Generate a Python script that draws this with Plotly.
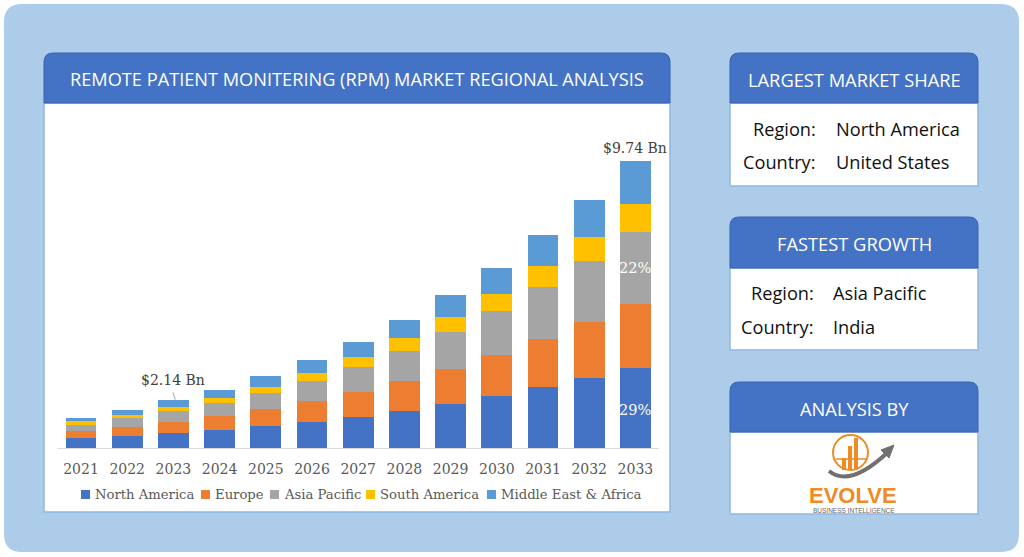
import plotly.graph_objects as go

# Data (USD Bn)
YEARS = ["2021", "2022", "2023", "2024", "2025", "2026", "2027",
         "2028", "2029", "2030", "2031", "2032", "2033"]
NORTH_AMERICA = [0.33, 0.40, 0.50, 0.62, 0.74, 0.88, 1.06, 1.27, 1.51, 1.77, 2.06, 2.39, 2.72]
EUROPE = [0.25, 0.32, 0.38, 0.45, 0.60, 0.71, 0.85, 1.01, 1.18, 1.39, 1.63, 1.87, 2.15]
ASIA_PACIFIC = [0.20, 0.29, 0.36, 0.46, 0.54, 0.67, 0.84, 1.02, 1.26, 1.48, 1.78, 2.09, 2.46]
SOUTH_AMERICA = [0.12, 0.11, 0.14, 0.16, 0.20, 0.30, 0.35, 0.42, 0.49, 0.59, 0.69, 0.81, 0.96]
MEA = [0.12, 0.18, 0.24, 0.29, 0.36, 0.42, 0.49, 0.62, 0.74, 0.89, 1.06, 1.27, 1.44]

SERIES = [
    ("North America", NORTH_AMERICA, "#4472C4"),
    ("Europe", EUROPE, "#ED7D31"),
    ("Asia Pacific", ASIA_PACIFIC, "#A5A5A5"),
    ("South America", SOUTH_AMERICA, "#FFC000"),
    ("Middle East & Africa", MEA, "#5B9BD5"),
]

VALUE_LABELS = {"2023": "$2.14 Bn", "2033": "$9.74 Bn"}
SHARE_LABELS = [("2033", "Asia Pacific", "22%"), ("2033", "North America", "29%")]

W, H = 1024, 557
HEADER_BLUE = "#4472C4"
PANEL_BG = "#ADCCEA"
BORDER = "#8FB8E2"
SERIF = "DejaVu Serif"
SANS = "Open Sans"


def px(x):
    return x / W


def py(y):
    return 1 - y / H


def rounded_path(x0, y0, x1, y1, r, top_only=False):
    rb = 0 if top_only else r
    pts = [
        f"M{px(x0 + r)},{py(y0)}",
        f"L{px(x1 - r)},{py(y0)}",
        f"Q{px(x1)},{py(y0)} {px(x1)},{py(y0 + r)}",
        f"L{px(x1)},{py(y1 - rb)}",
        f"Q{px(x1)},{py(y1)} {px(x1 - rb)},{py(y1)}",
        f"L{px(x0 + rb)},{py(y1)}",
        f"Q{px(x0)},{py(y1)} {px(x0)},{py(y1 - rb)}",
        f"L{px(x0)},{py(y0 + r)}",
        f"Q{px(x0)},{py(y0)} {px(x0 + r)},{py(y0)}",
        "Z",
    ]
    return " ".join(pts)


fig = go.Figure()

for name, vals, color in SERIES:
    fig.add_trace(go.Bar(
        name=name,
        x=YEARS,
        y=vals,
        marker=dict(color=color, line=dict(width=0)),
        hovertemplate="<b>%{x}</b><br>" + name + ": %{y:.2f} Bn<extra></extra>",
    ))

shapes = []
annotations = []

# outer light-blue card
shapes.append(dict(type="path", path=rounded_path(4, 4, 1019, 552, 18),
                   xref="paper", yref="paper", fillcolor=PANEL_BG,
                   line=dict(width=0), layer="below"))


def panel(x0, y0, y_head, x1, y1, title, size=18.3):
    shapes.append(dict(type="rect", xref="paper", yref="paper",
                       x0=px(x0), x1=px(x1), y0=py(y1), y1=py(y_head),
                       fillcolor="white", line=dict(color=BORDER, width=1.5),
                       layer="below"))
    shapes.append(dict(type="path", path=rounded_path(x0, y0, x1, y_head, 9, top_only=True),
                       xref="paper", yref="paper", fillcolor=HEADER_BLUE,
                       line=dict(color="#3B63AD", width=1), layer="below"))
    annotations.append(dict(text=title, xref="paper", yref="paper",
                            x=px((x0 + x1) / 2), y=py((y0 + y_head) / 2 + 1),
                            showarrow=False, xanchor="center", yanchor="middle",
                            font=dict(family=SANS, size=size, color="white")))


panel(44, 53, 103, 670, 512, "REMOTE PATIENT MONITERING (RPM) MARKET REGIONAL ANALYSIS", 18.2)
panel(730, 53, 103, 978, 186, "LARGEST MARKET SHARE")
panel(730, 217, 268, 978, 350, "FASTEST GROWTH")
panel(730, 382, 432, 978, 514, "ANALYSIS BY")


def info_row(y, label, value, xl, xv):
    annotations.append(dict(text=label, xref="paper", yref="paper", x=px(xl), y=py(y),
                            showarrow=False, xanchor="right", yanchor="middle",
                            font=dict(family=SANS, size=18.2, color="#111111")))
    annotations.append(dict(text=value, xref="paper", yref="paper", x=px(xv), y=py(y),
                            showarrow=False, xanchor="left", yanchor="middle",
                            font=dict(family=SANS, size=18.2, color="#111111")))


info_row(129, "Region:", "North America", 818, 834)
info_row(162, "Country:", "United States", 818, 834)
info_row(293, "Region:", "Asia Pacific", 816, 831)
info_row(327, "Country:", "India", 816, 831)

# logo (approximation)
shapes.append(dict(type="circle", xref="paper", yref="paper",
                   x0=px(833), x1=px(868), y0=py(470), y1=py(435),
                   line=dict(color="#F08A24", width=2), layer="above"))
for bx0, bx1, btop in [(842, 846, 458), (848, 852, 446), (854, 858, 438)]:
    shapes.append(dict(type="rect", xref="paper", yref="paper",
                       x0=px(bx0), x1=px(bx1), y0=py(470), y1=py(btop),
                       fillcolor="#F08A24", line=dict(width=0), layer="above"))
shapes.append(dict(type="line", xref="paper", yref="paper",
                   x0=px(836), x1=px(866), y0=py(459), y1=py(459),
                   line=dict(color="#F08A24", width=1.5), layer="above"))
shapes.append(dict(type="path", xref="paper", yref="paper",
                   path=f"M{px(829)},{py(471)} Q{px(850)},{py(488)} {px(888)},{py(452)}",
                   line=dict(color="#707070", width=4), layer="above"))
shapes.append(dict(type="path", xref="paper", yref="paper",
                   path=f"M{px(894)},{py(445)} L{px(881)},{py(450)} L{px(889)},{py(458)} Z",
                   fillcolor="#707070", line=dict(color="#707070", width=1), layer="above"))
annotations.append(dict(text="<b>EVOLVE</b>", xref="paper", yref="paper",
                        x=px(853), y=py(495), showarrow=False,
                        xanchor="center", yanchor="middle",
                        font=dict(family="Liberation Sans", size=22, color="#F08A24")))
annotations.append(dict(text="BUSINESS INTELLIGENCE", xref="paper", yref="paper",
                        x=px(854), y=py(510), showarrow=False,
                        xanchor="center", yanchor="middle",
                        font=dict(family="Liberation Sans", size=6.5, color="#666666")))

# totals above bars (category index used as x position)
totals = [sum(v) for v in zip(*[s[1] for s in SERIES])]
for yr, txt in VALUE_LABELS.items():
    i = YEARS.index(yr)
    shift = 20 if yr == "2023" else 13
    annotations.append(dict(text=txt, x=i, y=totals[i], xref="x", yref="y",
                            yshift=shift, showarrow=False, yanchor="middle",
                            font=dict(family=SERIF, size=14, color="#404040")))
    if yr == "2023":
        shapes.append(dict(type="line", xref="x", yref="y",
                           x0=i - 0.01, x1=i + 0.04, y0=totals[i] + 0.27, y1=totals[i] + 0.02,
                           line=dict(color="#A6A6A6", width=1)))

# share labels inside segments
names = [s[0] for s in SERIES]
for yr, region, txt in SHARE_LABELS:
    i = YEARS.index(yr)
    k = names.index(region)
    base = sum(SERIES[j][1][i] for j in range(k))
    mid = base + SERIES[k][1][i] / 2
    if region == "North America":
        mid = base + SERIES[k][1][i] * 0.48
    annotations.append(dict(text=txt, x=i, y=mid, xref="x", yref="y",
                            showarrow=False,
                            font=dict(family=SERIF, size=14.5, color="white")))

# custom legend
LEGEND_X = [81, 201, 270, 366, 487]
for (name, _, color), lx in zip(SERIES, LEGEND_X):
    shapes.append(dict(type="rect", xref="paper", yref="paper",
                       x0=px(lx), x1=px(lx + 9), y0=py(499), y1=py(490),
                       fillcolor=color, line=dict(width=0)))
    annotations.append(dict(text=name, xref="paper", yref="paper",
                            x=px(lx + 12), y=py(494), showarrow=False,
                            xanchor="left", yanchor="middle",
                            font=dict(family=SERIF, size=13.2, color="#595959")))

fig.update_layout(
    width=W, height=H,
    barmode="stack",
    bargap=0.33,
    showlegend=False,
    paper_bgcolor="white",
    plot_bgcolor="rgba(0,0,0,0)",
    margin=dict(l=0, r=0, t=0, b=0, autoexpand=False),
    xaxis=dict(
        type="category",
        categoryorder="array",
        categoryarray=YEARS,
        range=[-0.5, len(YEARS) - 0.5],
        automargin=False,
        domain=[px(57.9), px(658.5)],
        showline=True, linecolor="#D9D9D9", linewidth=1,
        showgrid=False, ticks="",
        ticklabelstandoff=8,
        tickfont=dict(family=SERIF, size=14, color="#595959"),
    ),
    yaxis=dict(
        automargin=False,
        domain=[py(448), py(130)],
        range=[0, (448 - 130) / 29.47],
        visible=False,
    ),
    shapes=shapes,
    annotations=annotations,
)

fig.write_html(
    "out.html",
    config={"displayModeBar": False},
    post_script="document.body.style.margin='0';document.body.style.overflow='hidden';",
)
